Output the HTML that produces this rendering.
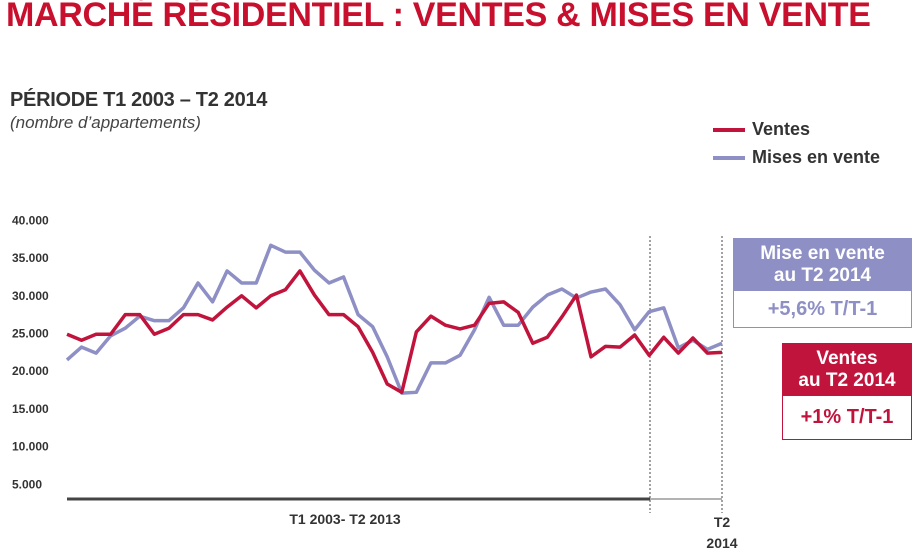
<!DOCTYPE html>
<html><head><meta charset="utf-8"><style>
body{margin:0;width:912px;height:553px;background:#fff;font-family:"Liberation Sans",sans-serif;overflow:hidden;position:relative}
.abs{position:absolute}
</style></head><body>
<div class="abs" style="left:6px;top:-4px;font-size:34px;font-weight:bold;color:#c8102e;letter-spacing:-0.3px;white-space:nowrap">MARCHÉ RÉSIDENTIEL : VENTES &amp; MISES EN VENTE</div>
<div class="abs" style="left:10px;top:89px;font-size:20px;font-weight:bold;color:#333;letter-spacing:-0.3px">PÉRIODE T1 2003 – T2 2014</div>
<div class="abs" style="left:10px;top:113px;font-size:17px;font-style:italic;color:#444">(nombre d’appartements)</div>
<div class="abs" style="left:713px;top:119px;font-size:18px;font-weight:bold;color:#333"><span style="display:inline-block;width:32px;height:4px;background:#c0143c;vertical-align:middle;margin-right:7px"></span>Ventes</div>
<div class="abs" style="left:713px;top:147px;font-size:18px;font-weight:bold;color:#333"><span style="display:inline-block;width:32px;height:4px;background:#8e8fc5;vertical-align:middle;margin-right:7px"></span>Mises en vente</div>
<svg class="abs" style="left:0;top:0" width="912" height="553" id="chart"></svg>
<div class="abs" style="left:733px;top:238px;width:177px;height:88px;border:1px solid #8e8fc5;background:#fff">
<div style="background:#8e8fc5;color:#fff;font-weight:bold;font-size:19px;text-align:center;line-height:22px;height:52px;padding-top:4px;box-sizing:border-box">Mise en vente<br>au T2 2014</div>
<div style="color:#8e8fc5;font-weight:bold;font-size:20px;text-align:center;line-height:36px">+5,6% T/T-1</div></div>
<div class="abs" style="left:782px;top:343px;width:128px;height:95px;border:1px solid #c0143c;background:#fff">
<div style="background:#c0143c;color:#fff;font-weight:bold;font-size:19px;text-align:center;line-height:22px;height:52px;padding-top:4px;box-sizing:border-box">Ventes<br>au T2 2014</div>
<div style="color:#c0143c;font-weight:bold;font-size:20px;text-align:center;line-height:42px">+1% T/T-1</div></div>
<script>
const yTicks=[40000,35000,30000,25000,20000,15000,10000,5000];
const yTickLabels=["40.000","35.000","30.000","25.000","20.000","15.000","10.000","5.000"];
const ventes=[24.9,24.1,24.9,24.9,27.5,27.5,24.9,25.7,27.5,27.5,26.8,28.5,30,28.4,30,30.8,33.3,30.1,27.5,27.5,25.9,22.5,18.3,17.2,25.2,27.3,26.1,25.6,26.1,29,29.2,27.8,23.7,24.5,27.2,30.1,21.9,23.3,23.2,24.8,22.1,24.5,22.4,24.4,22.4,22.5];
const mises=[21.5,23.2,22.4,24.7,25.7,27.3,26.7,26.7,28.4,31.7,29.2,33.3,31.7,31.7,36.7,35.8,35.8,33.4,31.7,32.5,27.5,25.9,21.9,17.1,17.2,21.1,21.1,22.1,25.5,29.8,26.1,26.1,28.5,30.1,30.9,29.7,30.5,30.9,28.8,25.5,27.9,28.4,23.1,24.1,22.9,23.7];
const periodLabels=["T1 2003- T2 2013","T2","2014"];
const svg=document.getElementById('chart');const NS="http://www.w3.org/2000/svg";
const x0=67,x1=722,n=ventes.length;
const xs=i=>x0+i*(x1-x0)/(n-1);
const ys=v=>522-v*7.54/1000;
function mk(t,a){const e=document.createElementNS(NS,t);for(const k in a)e.setAttribute(k,a[k]);svg.appendChild(e);return e;}
yTicks.forEach((v,i)=>{const t=mk('text',{x:12,y:ys(v)+4,'font-size':12,'font-weight':'bold',fill:'#333','font-family':'Liberation Sans'});t.textContent=yTickLabels[i];

});
let l=mk('line',{x1:67,y1:499,x2:650,y2:499,stroke:'#444','stroke-width':3});


l=mk('line',{x1:650,y1:499,x2:722,y2:499,stroke:'#666','stroke-width':1});


[650,722].forEach(x=>{const d=mk('line',{x1:x,y1:236,x2:x,y2:513,stroke:'#444','stroke-width':1,'stroke-dasharray':'2,2'});

});
function series(arr,col,name){const p=mk('polyline',{points:arr.map((v,i)=>xs(i)+','+ys(v*1000)).join(' '),fill:'none',stroke:col,'stroke-width':3.5,'stroke-linejoin':'round'});

}
series(mises,'#8e8fc5','mises-line');
series(ventes,'#c0143c','ventes-line');
[[345,524,periodLabels[0]],[722,527,periodLabels[1]],[722,548,periodLabels[2]]].forEach(a=>{const t=mk('text',{x:a[0],y:a[1],'font-size':14,'font-weight':'bold',fill:'#333','text-anchor':'middle','font-family':'Liberation Sans'});t.textContent=a[2];

});
</script>
</body></html>
